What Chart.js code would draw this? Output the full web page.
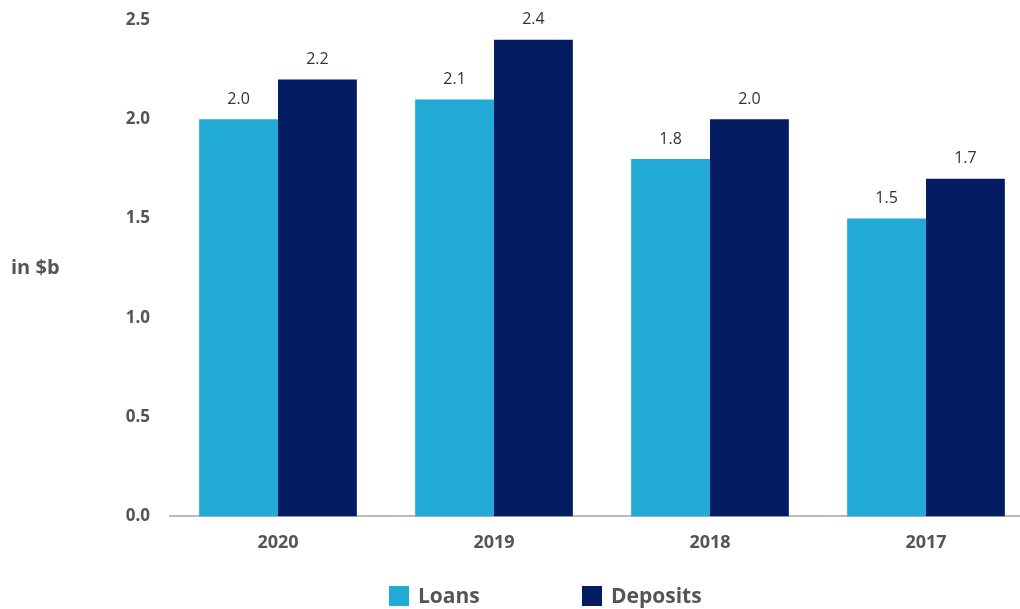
<!DOCTYPE html>
<html><head><meta charset="utf-8">
<script src="https://cdn.jsdelivr.net/npm/chart.js@4/dist/chart.umd.min.js"></script>
<style>html,body{margin:0;padding:0;overflow:hidden;background:#fff}#wrap{width:1040px;height:609px;position:relative}</style>
</head><body><div id="wrap"><canvas id="c" width="1040" height="609"></canvas></div>
<script>
const categories = ["2020", "2019", "2018", "2017"];
const loans = [2.0, 2.1, 1.8, 1.5];
const deposits = [2.2, 2.4, 2.0, 1.7];
const seriesNames = ["Loans", "Deposits"];
const yTicks = [0, 0.5, 1.0, 1.5, 2.0, 2.5];
const yTitle = "in $b";
const FONT = "'Open Sans', 'DejaVu Sans', sans-serif";

const extras = {
  id: 'extras',
  afterDatasetsDraw(chart) {
    const ctx = chart.ctx;
    ctx.save();
    ctx.font = "16px " + FONT;
    ctx.fillStyle = "#333333";
    ctx.textAlign = "center";
    ctx.textBaseline = "middle";
    chart.data.datasets.forEach((ds, i) => {
      chart.getDatasetMeta(i).data.forEach((bar, j) => {
        ctx.fillText(ds.data[j].toFixed(1), bar.x, bar.y - 20);
      });
    });
    // y title
    ctx.font = "bold 20px " + FONT;
    ctx.fillStyle = "#555555";
    ctx.textAlign = "left";
    ctx.fillText(yTitle, 11, 268);
    // legend
    const xs = [389, 582];
    ctx.font = "bold 21px " + FONT;
    chart.data.datasets.forEach((ds, i) => {
      ctx.fillStyle = ds.backgroundColor;
      ctx.fillRect(xs[i], 586, 20, 20);
      ctx.fillStyle = "#555555";
      ctx.fillText(ds.label, xs[i] + 29, 597);
    });
    ctx.restore();
  }
};

new Chart(document.getElementById('c'), {
  type: 'bar',
  data: {
    labels: categories,
    datasets: [
      { label: seriesNames[0], data: loans, backgroundColor: '#21AAD5' },
      { label: seriesNames[1], data: deposits, backgroundColor: '#041C62' }
    ]
  },
  options: {
    responsive: false,
    animation: false,
    events: [],
    layout: { padding: { top: 20, right: 6, bottom: 39, left: 0 } },
    datasets: { bar: { barPercentage: 1.0, categoryPercentage: 0.73 } },
    plugins: { legend: { display: false }, tooltip: { enabled: false } },
    scales: {
      x: {
        grid: { display: false, drawTicks: false },
        border: { display: true, color: '#BBBBBB', width: 2 },
        ticks: { color: '#555555', font: { family: FONT, size: 18, weight: 'bold' }, padding: 16 }
      },
      y: {
        min: 0, max: 2.5,
        afterFit(scale) { scale.width = 170; scale.paddingTop = 0; scale.paddingBottom = 0; },
        afterBuildTicks(scale) { scale.ticks = yTicks.map(v => ({ value: v })); },
        grid: { display: false, drawTicks: false },
        border: { display: false },
        ticks: { color: '#555555', font: { family: FONT, size: 17, weight: 'bold' }, padding: 20,
          callback: v => v.toFixed(1) }
      }
    }
  },
  plugins: [extras]
});
</script></body></html>
